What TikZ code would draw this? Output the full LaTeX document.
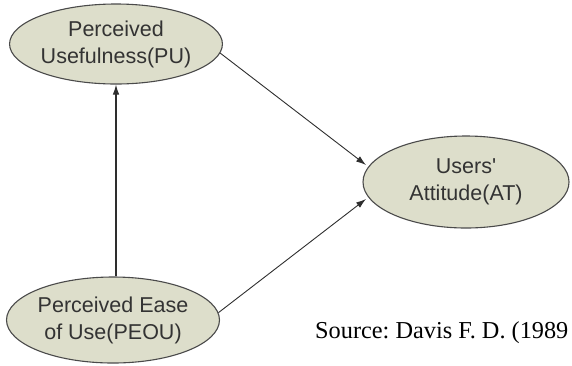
\documentclass[tikz,border=0pt]{standalone}
\usepackage{fontspec}
\newfontfamily\arialfont{Liberation Sans}
\newfontfamily\timesfont{Liberation Serif}
\usetikzlibrary{shapes.geometric,arrows.meta}
\frenchspacing
\definecolor{ellfill}{HTML}{DDDECB}
\definecolor{ellline}{HTML}{4A4A4A}
\definecolor{txt}{HTML}{333333}
\definecolor{arr}{HTML}{2E2E2E}
\tikzset{
  construct/.style={ellipse, draw=ellline, line width=1.1pt, fill=ellfill, inner sep=0pt,
    align=center, text=txt, font=\arialfont\fontsize{21.5}{27}\selectfont},
  link/.style={draw=arr, line width=0.9pt, -{Latex[length=10pt,width=6.5pt]}}
}
\begin{document}
\begin{tikzpicture}[x=1pt,y=-1pt]
\useasboundingbox (0,0) rectangle (572,365);
\node[construct, minimum width=204pt, minimum height=80pt] (PU) at (116,44) {Perceived\\Usefulness(PU)};
\node[construct, minimum width=200pt, minimum height=86pt] (PEOU) at (113,320) {Perceived Ease\\of Use(PEOU)};
\node[construct, minimum width=206pt, minimum height=92pt] (AT) at (466,182) {Users'\\Attitude(AT)};
\coordinate (ATin1) at (366,165);
\coordinate (ATin2) at (366,199);
\draw[link, line width=1.1pt] (PEOU.north -| PU.south) -- (PU.south);
\draw[link] (PU.-5) -- (ATin1);
\draw[link] (PEOU.4) -- (ATin2);
\node[anchor=base west, inner sep=0pt, font=\timesfont\fontsize{24.3}{28}\selectfont, text=black] (src) at (315,338) {Source: Davis F. D. (1989};
\end{tikzpicture}
\end{document}
